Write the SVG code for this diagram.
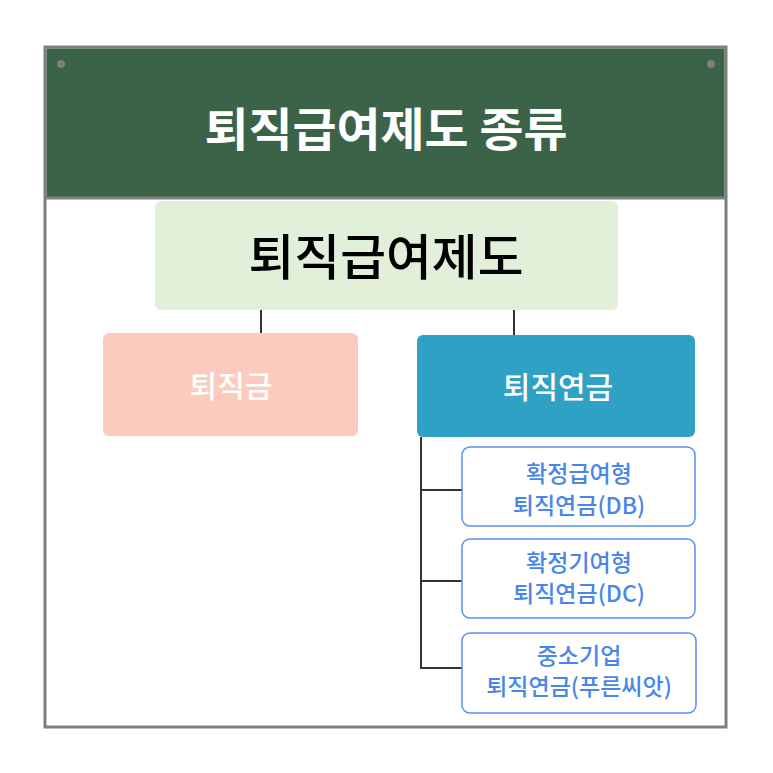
<svg xmlns="http://www.w3.org/2000/svg" width="773" height="773" viewBox="0 0 773 773">
<style>
text{font-family:"Noto Sans CJK KR","Noto Sans",sans-serif;text-anchor:middle}
.conn{stroke:#333;stroke-width:2;fill:none}
.child rect{fill:#fff;stroke:#5590f4;stroke-width:1.5}
.child text{fill:#4a86e8;font-size:23px;font-weight:500}
</style>
<rect x="0" y="0" width="773" height="773" fill="#fff"/>
<g id="frame">
<rect x="45" y="47" width="681" height="680" fill="#fff" stroke="#7f7f7f" stroke-width="3"/>
<rect x="46.5" y="48.5" width="678" height="149" fill="#3b6348"/>
<line x1="45" y1="198" x2="726" y2="198" stroke="#7f7f7f" stroke-width="3"/>
<circle cx="61" cy="64" r="4" fill="#7f7f7f"/>
<circle cx="711" cy="64" r="4" fill="#7f7f7f"/>
<text x="386" y="146" fill="#fff" font-size="46" font-weight="700" textLength="363" lengthAdjust="spacingAndGlyphs">퇴직급여제도 종류</text>
</g>
<g id="connectors">
<line class="conn" x1="261" y1="310" x2="261" y2="334"/>
<line class="conn" x1="514" y1="310" x2="514" y2="336"/>
<polyline class="conn" points="421,437 421,668"/>
<line class="conn" x1="420" y1="490" x2="462" y2="490"/>
<line class="conn" x1="420" y1="581" x2="462" y2="581"/>
<line class="conn" x1="420" y1="668" x2="462" y2="668"/>
</g>
<g id="root">
<rect x="155" y="201" width="463" height="109" rx="6" fill="#e2efd9"/>
<text x="386" y="275" font-size="49" font-weight="500" fill="#000" textLength="275" lengthAdjust="spacingAndGlyphs">퇴직급여제도</text>
</g>
<g id="severance">
<rect x="103" y="333" width="255" height="103" rx="6" fill="#fccbbd"/>
<text x="231" y="397" font-size="30" font-weight="500" fill="#fff">퇴직금</text>
</g>
<g id="pension">
<rect x="417" y="335" width="278" height="102" rx="6" fill="#2ea1c5"/>
<text x="558" y="398" font-size="30" font-weight="500" fill="#fff">퇴직연금</text>
</g>
<g id="db" class="child">
<rect x="462" y="447" width="233" height="79" rx="8"/>
<text x="579" y="482">확정급여형</text>
<text x="579" y="514">퇴직연금(DB)</text>
</g>
<g id="dc" class="child">
<rect x="462" y="539" width="233" height="79" rx="8"/>
<text x="579" y="571">확정기여형</text>
<text x="579" y="602">퇴직연금(DC)</text>
</g>
<g id="irp" class="child">
<rect x="462" y="633" width="234" height="80" rx="8"/>
<text x="579" y="664">중소기업</text>
<text x="579" y="695">퇴직연금(푸른씨앗)</text>
</g>
</svg>
